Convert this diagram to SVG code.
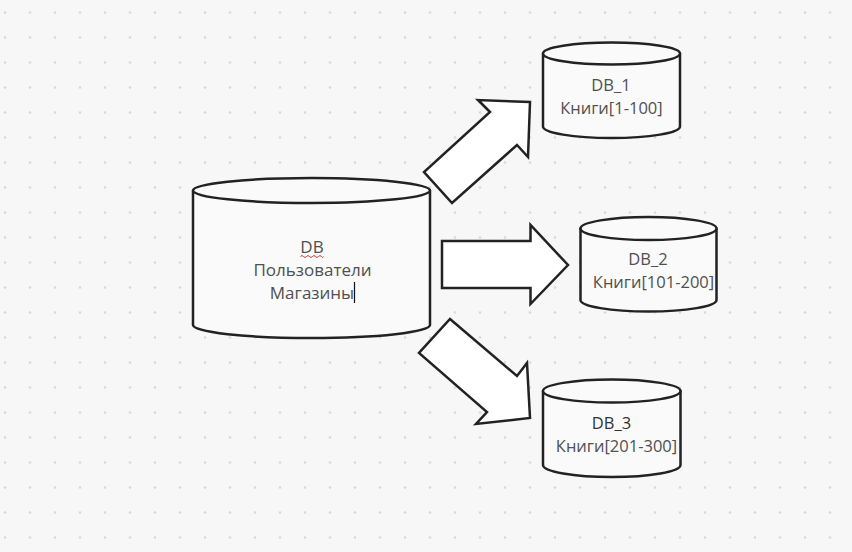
<svg xmlns="http://www.w3.org/2000/svg" width="852" height="552" viewBox="0 0 852 552">
<defs>
<pattern id="grid" x="0" y="0" width="25" height="25" patternUnits="userSpaceOnUse">
<circle cx="5" cy="12.5" r="1.3" fill="#d9d9dc"/>
</pattern>
<style>
.cyl{fill:#fafafa;stroke:#222;stroke-width:2.5;stroke-linejoin:round}
.arr{fill:#fff;stroke:#222;stroke-width:2.5;stroke-linejoin:miter}
.t{font-family:"Open Sans","DejaVu Sans",sans-serif;font-size:16.5px;fill:#505050;text-anchor:middle}
.big{font-size:17px}
</style>
</defs>
<rect width="852" height="552" fill="#f7f7f8"/>
<rect width="852" height="552" fill="url(#grid)"/>

<g id="connectors">
<polygon id="arrow1" class="arr" points="490,112 478,100 530,102 528,157 517,145 452,203 424,172"/>
<polygon id="arrow2" class="arr" points="442,241 530.5,241 530.5,225 568,265 530.5,304 530.5,288 442,288"/>
<polygon id="arrow3" class="arr" points="450,319 517,376 527,363 530,418 476,424 487,412 419,353"/>
</g>

<g id="db-main">
<path class="cyl" d="M193,190.5 L193,325 A118.5,13 0 0 0 430,325 L430,190.5 Z"/>
<ellipse class="cyl" cx="311.5" cy="190.5" rx="118.5" ry="12.5"/>
<text class="t big" x="312" y="253">DB</text>
<text class="t big" x="312.5" y="276">Пользователи</text>
<text class="t big" x="312" y="299">Магазины</text>
<path d="M300.5,256.5 q1.5,-2 3,0 t3,0 t3,0 t3,0 t3,0 t3,0 t3,0 t2,0" fill="none" stroke="#d03030" stroke-width="1"/>
<line x1="354.5" y1="282" x2="354.5" y2="303" stroke="#111" stroke-width="1.2"/>
</g>

<g id="db-1">
<path class="cyl" d="M543,53.5 L543,126.5 A68.5,11.5 0 0 0 680,126.5 L680,53.5 Z"/>
<ellipse class="cyl" cx="611.5" cy="53.5" rx="68.5" ry="11"/>
<text class="t" x="611" y="91">DB_1</text>
<text class="t" x="611.5" y="114">Книги[1-100]</text>
</g>

<g id="db-2">
<path class="cyl" d="M580.5,228.5 L580.5,300 A68,11.5 0 0 0 716.5,300 L716.5,228.5 Z"/>
<ellipse class="cyl" cx="648.5" cy="228.5" rx="68" ry="11.5"/>
<text class="t" x="648" y="265">DB_2</text>
<text class="t" x="653.5" y="288">Книги[101-200]</text>
</g>

<g id="db-3">
<path class="cyl" d="M543,391 L543,465 A68.75,12 0 0 0 680.5,465 L680.5,391 Z"/>
<ellipse class="cyl" cx="611.75" cy="391" rx="68.75" ry="11.5"/>
<text class="t" x="611.5" y="428.5" style="fill:#333">DB_3</text>
<text class="t" x="616.5" y="451.5">Книги[201-300]</text>
</g>
</svg>
